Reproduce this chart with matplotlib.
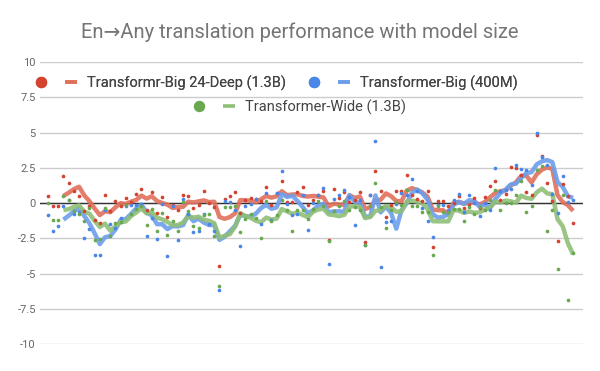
import numpy as np
import pandas as pd
import matplotlib
matplotlib.use('Agg')
import matplotlib.pyplot as plt
from matplotlib.lines import Line2D
from matplotlib.legend_handler import HandlerBase

plt.rcParams['font.family'] = ['Roboto', 'DejaVu Sans']

title = 'En\u2192Any translation performance with model size'
series_names = ['Transformr-Big 24-Deep (1.3B)', 'Transformer-Big (400M)', 'Transformer-Wide (1.3B)']

# BLEU delta per language (En->xx)
deep_24 = [0.52, -0.19, -0.21, 1.89, 1.42, 0.83, 0.47, -0.54, -0.24, -1.23,
           -1.42, 0.57, -0.54, 0.17, -0.24, 0.35, 0.10, 0.66, 0.99, -0.50,
           0.76, -0.69, 0.43, -0.97, -0.17, -0.47, 0.54, 0.47, -0.38, -0.17,
           0.83, -0.02, -0.28, -4.49, 0.31, 0.47, 0.76, -0.71, 0.24, 0.35,
           0.31, 0.17, 1.16, -0.12, 0.71, 1.58, 0.05, 0.07, 0.78, 1.11,
           -0.12, 0.24, 0.59, 0.87, -2.65, 0.99, 0.35, 0.76, 0.10, 0.24,
           0.76, -2.79, 0.59, 2.25, 0.87, -0.99, -0.17, 0.83, 0.83, 2.01,
           0.54, 0.31, 0.12, 0.83, -3.12, 0.12, 0.12, -0.24, 0.00, 0.47,
           -0.35, -0.12, 0.35, -0.35, 0.40, 1.18, 1.58, 0.19, 0.66, 2.53,
           2.48, 2.01, 0.76, 0.59, 4.80, 3.30, 1.42, 0.17, -2.67, 1.35,
           0.52, -1.42]
big_400m = [-0.87, -2.00, -1.60, -0.24, 0.24, -0.78, -0.64, -2.48, -1.82, -3.66,
            -3.71, -0.52, -1.49, -1.77, -1.06, -0.19, -0.12, -0.12, -0.05, -2.34,
            -1.06, -2.55, -0.07, -3.73, -0.19, -2.65, 0.31, -0.78, -2.03, -1.96,
            -0.78, -1.49, -2.00, -6.19, 0.12, 0.05, -0.50, -3.07, -0.19, -0.07,
            0.31, -1.47, 0.71, -1.18, 0.71, 2.29, -0.10, -0.83, -0.78, 0.59,
            -1.89, 0.00, 0.59, 1.06, -4.33, 0.31, 0.60, 0.90, 0.40, -1.54,
            0.24, -3.00, 0.54, 4.37, -4.56, -1.37, -1.25, -0.10, 0.70, 0.59,
            1.70, 0.83, -0.32, -1.27, -2.43, -0.12, -0.12, -0.50, 0.24, 0.66,
            -0.64, 0.54, 0.00, -0.95, 0.00, -0.50, 2.48, 0.83, 0.95, 1.00,
            2.72, 2.41, 2.36, 1.25, 4.96, 3.26, 2.72, 0.66, -0.71, 1.89,
            0.05, 0.24]
wide_13b = [0.00, -1.23, -1.23, 0.47, 0.24, -0.60, -0.78, -1.30, -0.35, -2.62,
            -2.53, -0.35, -2.32, -1.42, -1.37, -0.12, -0.78, -0.40, -0.24, -1.54,
            -0.40, -2.00, -0.69, -2.29, -1.30, -2.00, 0.07, -0.54, -1.65, -1.77,
            -0.83, -0.78, -2.36, -5.86, -0.31, -0.31, -0.19, -2.08, -1.13, -0.78,
            -1.06, -2.48, 0.17, -1.30, -0.83, 0.24, -0.50, -1.96, -0.47, -0.47,
            -1.11, -0.40, 0.12, -0.24, -2.72, -0.59, -0.19, 0.17, -0.50, -0.31,
            -0.50, -2.96, -0.19, 1.42, -0.30, -1.77, -0.50, 0.07, -0.12, 0.90,
            -0.19, -0.19, -0.64, -0.66, -3.66, -0.24, -0.64, -0.66, -0.46, -0.40,
            -1.26, -0.30, -0.78, -0.30, -0.50, 0.20, 0.95, -0.47, 0.00, 0.00,
            0.54, 1.54, -0.64, -0.24, 2.36, 2.60, -2.00, -0.47, -4.68, 0.54,
            -6.86, -3.55]

y_ticks = [-10, -7.5, -5, -2.5, 0, 2.5, 5, 7.5, 10]
y_tick_labels = ['-10', '-7.5', '-5', '-2.5', '0', '2.5', '5', '7.5', '10']

dot_colors = ['#d4432f', '#4a86e8', '#6aa84f']
trend_colors = ['#e0705c', '#6d9eeb', '#8fbf77']


class DotAndLine(HandlerBase):
    # sheets-style legend key: a dot, a gap, then a short stroke
    def create_artists(self, legend, orig_handle, xdescent, ydescent,
                       width, height, fontsize, trans):
        dc, tc = orig_handle
        y = height / 2 - ydescent
        dot = Line2D([-xdescent + 0.12 * width], [y], ls='none', marker='o',
                     ms=7.2, color=dc, transform=trans)
        line = Line2D([-xdescent + 0.71 * width, -xdescent + width], [y, y],
                      lw=2.6, color=tc, solid_capstyle='butt', transform=trans)
        return [dot, line]


df = pd.DataFrame({series_names[0]: deep_24,
                   series_names[1]: big_400m,
                   series_names[2]: wide_13b})
x = np.arange(len(df))

fig = plt.figure(figsize=(6, 3.71), dpi=100)
ax = fig.add_axes([0.0667, 0.0728, 0.905, 0.760])

keys = []
for name, dc, tc in zip(series_names, dot_colors, trend_colors):
    # moving average trendline, period 4
    trend = df[name].rolling(4).mean()
    ax.plot(x, trend, color=tc, lw=3.2, alpha=0.9, solid_capstyle='butt', zorder=2)
    ax.scatter(x, df[name], s=7, color=dc, linewidths=0, zorder=3)
    keys.append((dc, tc))

ax.set_xlim(-1.5, 102.9)
ax.set_ylim(-10, 10)
ax.set_yticks(y_ticks)
ax.set_yticklabels(y_tick_labels)
ax.set_xticks([])
ax.yaxis.grid(True, color='#cccccc', lw=1.0)
ax.axhline(0, color='#333333', lw=1.0, zorder=1.5)
ax.set_axisbelow(True)
for s in ax.spines.values():
    s.set_visible(False)
ax.tick_params(axis='y', length=0, pad=3, labelsize=8, labelcolor='#666666')

fig.text(0.5, 0.913, title, ha='center', va='center', fontsize=14.5, color='#757575')

hmap = {tuple: DotAndLine()}
leg_kw = dict(loc='center', frameon=False, fontsize=10.5, handler_map=hmap,
              handlelength=2.8, handletextpad=0.68, labelcolor='#444444',
              borderpad=0, borderaxespad=0)
leg1 = fig.legend(keys[:2], series_names[:2], bbox_to_anchor=(0.461, 0.776),
                  ncol=2, columnspacing=1.6, **leg_kw)
fig.add_artist(leg1)
fig.legend(keys[2:], series_names[2:], bbox_to_anchor=(0.5, 0.712), **leg_kw)

fig.savefig('out.png', dpi=100)
